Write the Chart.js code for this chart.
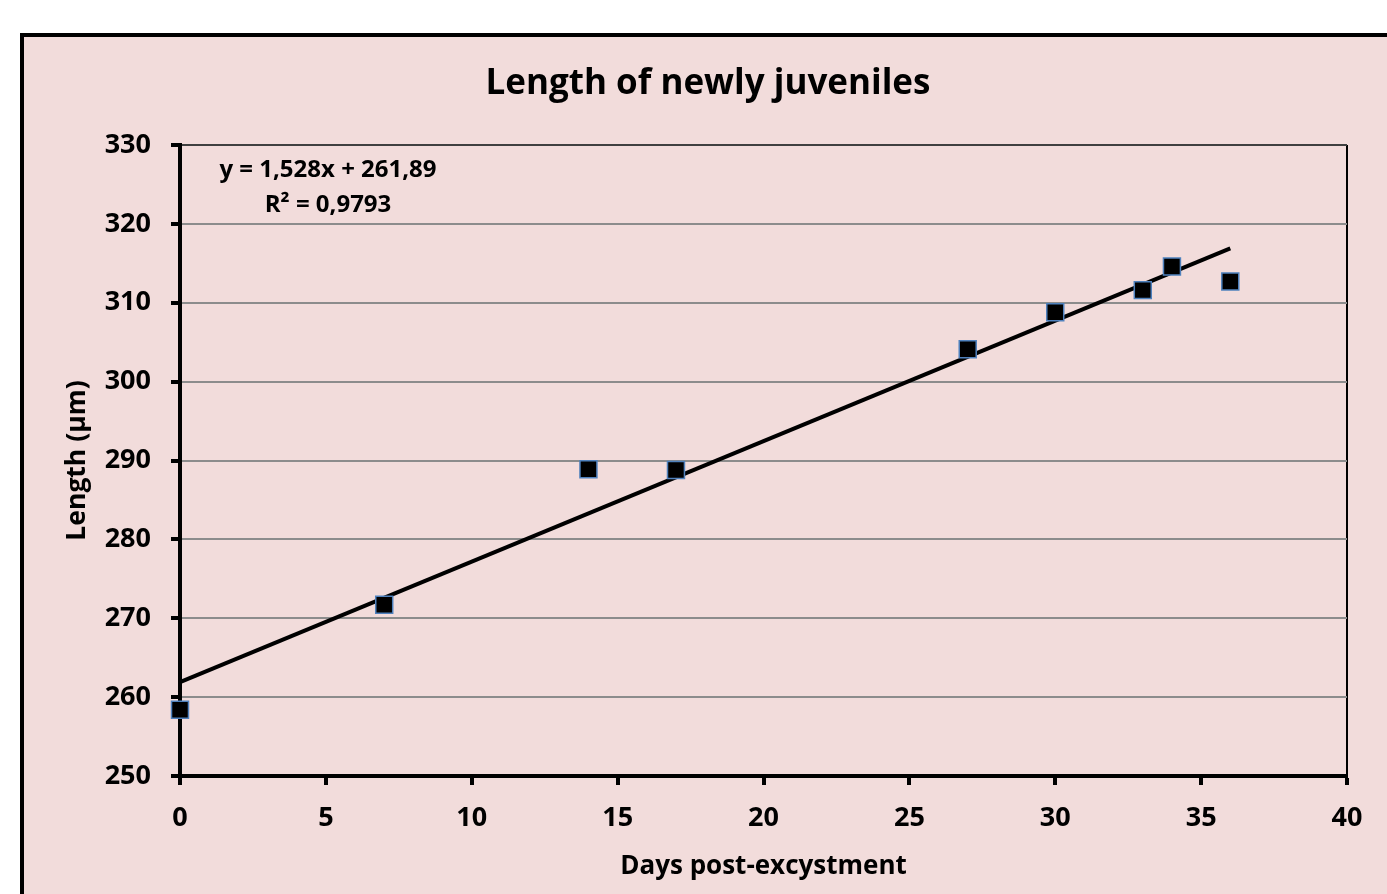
<!DOCTYPE html>
<html>
<head>
<meta charset="utf-8">
<script src="https://cdn.jsdelivr.net/npm/chart.js@4"></script>
<style>
  html, body { margin: 0; padding: 0; background: #ffffff; }
  canvas { display: block; }
</style>
</head>
<body>
<canvas id="chart" width="1387" height="894"></canvas>
<script>
// ==================================================
// DATA
// ==================================================
const days = [0, 7, 14, 17, 27, 30, 33, 34, 36];
const lengths = [258.4, 271.7, 288.9, 288.8, 304.1, 308.8, 311.6, 314.6, 312.7];

// linear trend line end points (from y = 1,528x + 261,89)
const trendDays = [0, 36];
const trendLengths = [261.89, 316.9];

const titleText = "Length of newly juveniles";
const xTitle = "Days post-excystment";
const yTitle = "Length (µm)";
const equationLines = ["y = 1,528x + 261,89", "R² = 0,9793"];

const FONT = "'Open Sans', 'DejaVu Sans', sans-serif";

// ==================================================
// PLUGINS
// ==================================================
// pink chart background with the thick black frame
const frame = {
  id: "frame",
  beforeDraw(chart) {
    const ctx = chart.ctx;
    ctx.save();
    ctx.fillStyle = "#ffffff";
    ctx.fillRect(0, 0, chart.width, chart.height);
    ctx.fillStyle = "#f2dcdb";
    ctx.fillRect(22, 35, 1500, 1000);
    ctx.strokeStyle = "#000000";
    ctx.lineWidth = 4;
    ctx.strokeRect(22, 35, 1500, 1000);
    ctx.restore();
  },
};

// chart title (centred on the frame, not the canvas) and trend equation
const labels = {
  id: "labels",
  afterDraw(chart) {
    const ctx = chart.ctx;
    ctx.save();
    ctx.fillStyle = "#000000";
    ctx.textAlign = "center";
    ctx.textBaseline = "middle";
    ctx.font = "bold 35px " + FONT;
    ctx.fillText(titleText, 708, 84);
    ctx.font = "bold 24px " + FONT;
    ctx.fillText(equationLines[0], 328, 170);
    ctx.fillText(equationLines[1], 328, 205);
    ctx.restore();
  },
};

// ==================================================
// CHART
// ==================================================
const ctx = document.getElementById("chart").getContext("2d");

new Chart(ctx, {
  type: "scatter",
  data: {
    datasets: [
      {
        label: "Length",
        data: days.map((d, i) => ({ x: d, y: lengths[i] })),
        pointStyle: "rect",
        pointRadius: 12,
        pointHoverRadius: 12,
        backgroundColor: "#000000",
        borderColor: "#4f81bd",
        borderWidth: 1.5,
        clip: false,
        order: 1,
      },
      {
        label: "Trend",
        type: "line",
        data: trendDays.map((d, i) => ({ x: d, y: trendLengths[i] })),
        borderColor: "#000000",
        borderWidth: 4,
        pointRadius: 0,
        fill: false,
        clip: false,
        order: 2,
      },
    ],
  },
  options: {
    responsive: false,
    animation: false,
    layout: { padding: { left: 0, right: 40, top: 145, bottom: 0 } },
    plugins: {
      legend: { display: false },
      tooltip: { enabled: false },
      title: { display: false },
    },
    scales: {
      x: {
        type: "linear",
        min: 0,
        max: 40,
        afterFit(scale) {
          scale.height = 118;
        },
        ticks: {
          stepSize: 5,
          color: "#000000",
          padding: 17,
          font: { family: FONT, size: 27, weight: "bold" },
        },
        grid: {
          drawOnChartArea: true,
          color: (c) => (c.tick && c.tick.value === 40 ? "#000000" : "rgba(0,0,0,0)"),
          lineWidth: 2,
          tickColor: "#000000",
          tickWidth: 4,
          tickLength: 9,
        },
        border: { display: true, color: "#000000", width: 4 },
        title: {
          display: true,
          text: xTitle,
          color: "#000000",
          font: { family: FONT, size: 26, weight: "bold" },
          padding: { top: 0, bottom: 12 },
        },
      },
      y: {
        type: "linear",
        min: 250,
        max: 330,
        afterFit(scale) {
          scale.width = 180;
        },
        ticks: {
          stepSize: 10,
          color: "#000000",
          padding: 20,
          font: { family: FONT, size: 27, weight: "bold" },
        },
        grid: {
          color: (c) => (c.tick && c.tick.value === 330 ? "#404040" : "#8c8c8c"),
          lineWidth: 2,
          tickColor: "#000000",
          tickWidth: 4,
          tickLength: 9,
        },
        border: { display: true, color: "#000000", width: 4 },
        title: {
          display: true,
          text: yTitle,
          color: "#000000",
          font: { family: FONT, size: 26.5, weight: "bold" },
          padding: { top: 62, bottom: 0 },
        },
      },
    },
  },
  plugins: [frame, labels],
});
</script>
</body>
</html>
